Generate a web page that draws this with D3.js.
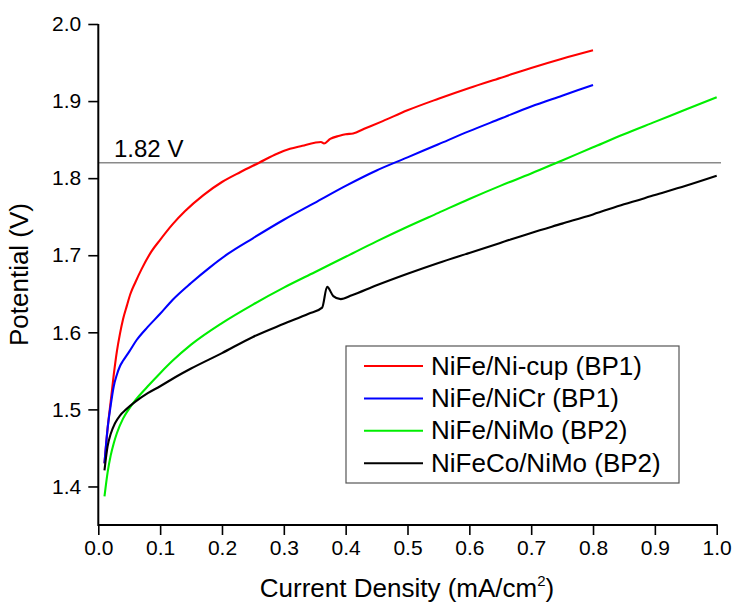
<!DOCTYPE html>
<html><head><meta charset="utf-8">
<script src="https://cdn.jsdelivr.net/npm/d3@7"></script>
<style>body{margin:0;background:#fff}svg{display:block}text{font-family:Arial,"Liberation Sans",sans-serif;fill:#000}</style>
</head><body>
<script>
const seriesNames = ["NiFe/Ni-cup (BP1)", "NiFe/NiCr (BP1)", "NiFe/NiMo (BP2)", "NiFeCo/NiMo (BP2)"];
const seriesColors = ["#ff0000", "#0000ff", "#00ee00", "#000000"];

const redX = [0.01,0.015,0.02,0.025,0.03,0.035,0.04,0.046,0.052,0.06,0.07,0.086,0.1,0.12,0.14,0.17,0.2,0.23,0.26,0.29,0.31,0.33,0.35,0.36,0.365,0.375,0.39,0.40,0.412,0.43,0.46,0.5,0.55,0.6,0.65,0.7,0.75,0.8];
const redY = [1.43,1.475,1.51,1.545,1.575,1.598,1.617,1.634,1.65,1.665,1.682,1.705,1.72,1.74,1.757,1.778,1.795,1.808,1.82,1.832,1.838,1.842,1.846,1.847,1.845,1.851,1.855,1.857,1.858,1.864,1.874,1.888,1.903,1.917,1.93,1.943,1.955,1.966];

const blueX = [0.01,0.015,0.02,0.025,0.03,0.035,0.04,0.05,0.062,0.08,0.1,0.12,0.15,0.18,0.21,0.25,0.3,0.35,0.4,0.45,0.5,0.55,0.6,0.65,0.7,0.75,0.8];
const blueY = [1.43,1.475,1.505,1.53,1.545,1.556,1.563,1.575,1.59,1.607,1.624,1.642,1.664,1.684,1.702,1.722,1.746,1.768,1.79,1.81,1.827,1.844,1.861,1.877,1.893,1.907,1.921];

const greenX = [0.01,0.015,0.02,0.025,0.03,0.04,0.05,0.06,0.08,0.1,0.12,0.15,0.2,0.25,0.3,0.35,0.4,0.45,0.5,0.55,0.6,0.65,0.7,0.75,0.8,0.85,0.9,0.95,1.0];
const greenY = [1.387,1.418,1.44,1.456,1.469,1.488,1.501,1.512,1.530,1.547,1.563,1.584,1.612,1.636,1.658,1.678,1.698,1.718,1.737,1.755,1.773,1.79,1.806,1.823,1.84,1.857,1.873,1.889,1.905];

const blackX = [0.01,0.015,0.02,0.027,0.035,0.045,0.06,0.08,0.1,0.125,0.15,0.2,0.25,0.3,0.34,0.362,0.37,0.38,0.392,0.41,0.45,0.5,0.55,0.6,0.65,0.7,0.75,0.8,0.85,0.9,0.95,1.0];
const blackY = [1.421,1.452,1.468,1.482,1.492,1.5,1.51,1.521,1.53,1.542,1.553,1.573,1.594,1.611,1.624,1.632,1.659,1.647,1.643,1.648,1.661,1.676,1.69,1.703,1.716,1.729,1.741,1.753,1.766,1.778,1.79,1.803];

const xTicks = [0.0,0.1,0.2,0.3,0.4,0.5,0.6,0.7,0.8,0.9,1.0];
const yTicks = [1.4,1.5,1.6,1.7,1.8,1.9,2.0];
const refLevel = 1.82;
const refLabel = "1.82 V";
const xTitle = "Current Density (mA/cm";
const yTitle = "Potential (V)";

const W = 732, H = 606;
const FONT = 'Arial,"Liberation Sans",sans-serif';
const svg = d3.select("body").append("svg").attr("width", W).attr("height", H);
const x = d3.scaleLinear().domain([0, 1]).range([98.3, 716.7]);
const y = d3.scaleLinear().domain([1.35, 2.0]).range([525, 24]);

// reference line
svg.append("line").attr("x1", x(0)).attr("x2", 721).attr("y1", y(refLevel)).attr("y2", y(refLevel))
  .attr("stroke", "#8a8a8a").attr("stroke-width", 1.6);
svg.append("text").attr("x", 114).attr("y", 157).attr("font-size", 24).text(refLabel);

// curves
const allX = [redX, blueX, greenX, blackX], allY = [redY, blueY, greenY, blackY];
const line = d3.line().x(d => x(d[0])).y(d => y(d[1])).curve(d3.curveMonotoneX);
allX.forEach((xs, i) => {
  const pts = xs.map((v, j) => [v, allY[i][j]]);
  svg.append("path").datum(pts).attr("d", line).attr("fill", "none")
    .attr("stroke", seriesColors[i]).attr("stroke-width", 2.1);
});

// axes
const xMinor = d3.range(0, 1.0001, 0.025);
const yMinor = d3.range(1.36, 2.0001, 0.02);
const gx = svg.append("g").attr("transform", `translate(0,${y(1.35)})`);
gx.call(d3.axisBottom(x).tickValues(xMinor).tickSize(6).tickFormat("")).call(g => g.select(".domain").remove());
gx.call(d3.axisBottom(x).tickValues(xTicks).tickSize(10).tickPadding(5).tickFormat(d3.format(".1f")));
gx.selectAll("line").attr("stroke", "#000").attr("stroke-width", 1.6);
gx.select(".domain").attr("stroke-width", 2).attr("d", `M${x(0)},0H${x(1)+1}`);
gx.selectAll("text").attr("font-size", 21).attr("font-family", FONT).attr("dy", "0.72em");

const gy = svg.append("g").attr("transform", `translate(${x(0)},0)`);
gy.call(d3.axisLeft(y).tickValues(yMinor).tickSize(6).tickFormat("")).call(g => g.select(".domain").remove());
gy.call(d3.axisLeft(y).tickValues(yTicks).tickSize(10).tickPadding(7).tickFormat(d3.format(".1f")));
gy.selectAll("line").attr("stroke", "#000").attr("stroke-width", 1.6);
gy.select(".domain").attr("stroke-width", 2).attr("d", `M0,${y(2.0)}V${y(1.35)+1}`);
gy.selectAll("text").attr("font-size", 21).attr("font-family", FONT);

// titles
const xt = svg.append("text").attr("x", 407).attr("y", 597).attr("text-anchor", "middle").attr("font-size", 26);
xt.append("tspan").text(xTitle);
xt.append("tspan").attr("font-size", 15).attr("dy", -11).text("2");
xt.append("tspan").attr("dy", 11).text(")");
svg.append("text").attr("transform", `translate(28,${(24+525)/2}) rotate(-90)`).attr("text-anchor", "middle")
  .attr("font-size", 26).text(yTitle);

// legend
const lg = svg.append("g");
lg.append("rect").attr("x", 346).attr("y", 346).attr("width", 333).attr("height", 137)
  .attr("fill", "#fff").attr("stroke", "#555").attr("stroke-width", 1.2);
seriesNames.forEach((n, i) => {
  const cy = 366 + i * 32.4;
  lg.append("line").attr("x1", 364).attr("x2", 423).attr("y1", cy).attr("y2", cy)
    .attr("stroke", seriesColors[i]).attr("stroke-width", 2);
  lg.append("text").attr("x", 431).attr("y", cy + 8.5).attr("font-size", 26).text(n);
});
</script>
</body></html>
